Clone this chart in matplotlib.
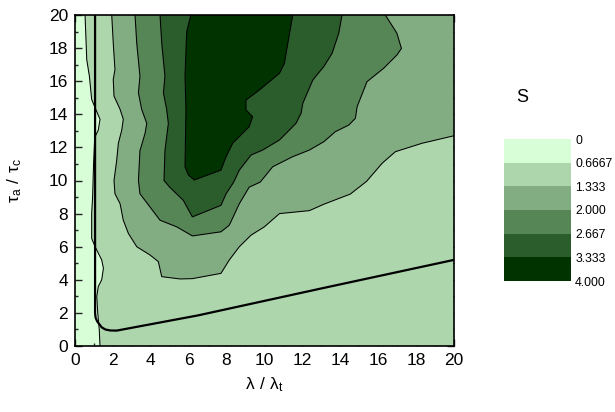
import matplotlib
matplotlib.use("Agg")
import matplotlib.pyplot as plt
from matplotlib.colors import ListedColormap, BoundaryNorm
from matplotlib.colorbar import ColorbarBase
import numpy as np

plt.rcParams['font.family'] = ['Liberation Sans', 'DejaVu Sans']
plt.rcParams['mathtext.default'] = 'regular'

# contour levels of S and their band colours (light -> dark green)
levels = [0.0, 0.6667, 1.333, 2.000, 2.667, 3.333, 4.000]
level_labels = ['0', '0.6667', '1.333', '2.000', '2.667', '3.333', '4.000']
band_colors = ['#d8fed8', '#add6ad', '#82ad82', '#568556', '#2b5c2b', '#003300']

# iso-lines of S (lambda/lambda_t, tau_a/tau_c)
s_0667_x = [0.53, 0.62, 0.76, 0.88, 1.06, 1.32, 1.23, 1.04, 0.98, 0.93, 0.88, 0.88,
            1.06, 1.41, 1.50, 1.41, 1.23, 1.15, 1.20, 1.28, 1.32]
s_0667_y = [20.0, 17.3, 16.3, 14.9, 14.4, 13.7, 13.05, 12.6, 11.0, 9.0, 8.0, 6.5,
            6.0, 5.2, 4.7, 4.0, 3.6, 3.0, 2.0, 1.0, 0.0]

s_1333_x = [1.94, 2.02, 2.11, 2.02, 2.06, 2.38, 2.55, 2.47, 2.29, 2.20, 2.06, 2.11,
            2.38, 2.55, 2.82, 3.26, 3.96, 4.40, 4.58, 5.55, 6.20, 7.71, 8.15, 8.68,
            9.30, 10.00, 10.80, 12.38, 13.15, 14.54, 15.40, 16.22, 16.92, 18.33, 20.0]
s_1333_y = [20.0, 18.3, 16.7, 16.1, 15.1, 14.3, 13.7, 13.05, 12.25, 11.2, 10.0, 9.2,
            8.6, 7.6, 6.8, 6.0, 5.5, 5.1, 4.19, 4.05, 4.07, 4.39, 5.2, 6.0,
            6.7, 7.2, 8.0, 8.18, 8.57, 9.18, 9.95, 11.04, 11.74, 12.25, 12.7]

s_2000_x = [3.17, 3.26, 3.43, 3.35, 3.52, 3.79, 3.70, 3.43, 3.35, 3.43, 3.96, 4.49,
            5.37, 6.20, 7.71, 8.15, 8.68, 9.20, 9.78, 10.44, 11.50, 12.38, 13.15,
            13.75, 14.46, 14.81, 14.90, 15.42, 16.30, 17.00, 17.24, 17.00, 16.39]
s_2000_y = [20.0, 18.3, 16.3, 15.3, 14.3, 13.45, 12.85, 11.8, 10.0, 9.2, 8.4, 7.6,
            7.2, 6.65, 6.9, 7.3, 8.6, 9.6, 9.9, 10.83, 11.44, 11.84, 12.35,
            12.95, 13.35, 13.76, 14.46, 15.97, 16.78, 17.58, 17.98, 18.9, 20.0]

s_2667_x = [4.49, 4.58, 4.75, 4.67, 4.84, 4.93, 4.75, 4.70, 5.00, 5.72, 6.20, 7.71,
            7.98, 8.38, 8.68, 9.30, 9.91, 10.80, 11.67, 11.94, 12.03, 12.56, 13.15,
            13.58, 13.93, 14.10]
s_2667_y = [20.0, 18.3, 16.3, 15.3, 14.3, 13.45, 11.8, 10.0, 9.6, 8.8, 7.8, 8.5,
            9.2, 9.9, 10.63, 11.54, 11.84, 12.45, 13.45, 14.06, 14.66, 16.07, 16.9,
            17.69, 18.9, 20.0]

s_3333_x = [6.12, 5.90, 5.81, 5.86, 5.81, 5.99, 6.30, 7.71, 7.98, 8.33, 9.20, 9.38,
            9.03, 9.03, 9.74, 10.80, 11.06, 11.24, 11.50]
s_3333_y = [20.0, 19.0, 16.3, 14.3, 10.83, 10.33, 10.03, 10.63, 11.44, 12.25, 13.25, 13.86,
            14.26, 14.86, 15.47, 16.48, 17.08, 18.29, 20.0]

# boundary curve (thick line)
bound_x = [1.06, 1.06, 1.06, 1.09, 1.18, 1.41, 1.60, 1.85, 2.20, 6.50, 13.10, 20.0]
bound_y = [20.0, 10.0, 2.0, 1.7, 1.47, 1.13, 1.00, 0.94, 0.93, 1.85, 3.50, 5.20]

x_min, x_max = 0, 20
y_min, y_max = 0, 20

cmap = ListedColormap(band_colors)
norm = BoundaryNorm(levels, cmap.N)

fig = plt.figure(figsize=(6.15, 4.12), dpi=100)
ax = fig.add_axes([75 / 615, 1 - 346 / 412, (453.7 - 75) / 615, (346 - 15) / 412])

def band_color(i):
    return cmap(norm(0.5 * (levels[i] + levels[i + 1])))

# lowest band fills the whole domain
ax.fill([x_min, x_max, x_max, x_min], [y_min, y_min, y_max, y_max],
        color=band_color(0), lw=0, zorder=1)

# S >= 0.6667 : everything right of the first iso-line
ax.fill(s_0667_x + [x_max, x_max], s_0667_y + [y_min, y_max],
        color=band_color(1), lw=0, zorder=2)
# S >= 1.333 : closed along the top/right edges
ax.fill(s_1333_x + [x_max], s_1333_y + [y_max], color=band_color(2), lw=0, zorder=3)
ax.fill(s_2000_x, s_2000_y, color=band_color(3), lw=0, zorder=4)
ax.fill(s_2667_x, s_2667_y, color=band_color(4), lw=0, zorder=5)
ax.fill(s_3333_x, s_3333_y, color=band_color(5), lw=0, zorder=6)

for xs, ys in [(s_0667_x, s_0667_y), (s_1333_x, s_1333_y), (s_2000_x, s_2000_y),
               (s_2667_x, s_2667_y), (s_3333_x, s_3333_y)]:
    ax.plot(xs, ys, color='black', lw=0.75, zorder=7, solid_joinstyle='round')

ax.plot(bound_x, bound_y, color='black', lw=1.6, zorder=8, solid_joinstyle='round')

ax.set_xlim(x_min, x_max)
ax.set_ylim(y_min, y_max)
ax.set_xticks(np.arange(0, 21, 2))
ax.set_yticks(np.arange(0, 21, 2))
ax.set_xticks(np.arange(1, 20, 2), minor=True)
ax.set_yticks(np.arange(1, 20, 2), minor=True)
ax.tick_params(which='both', direction='in', top=True, right=True, width=1.0,
               labelsize=12.5, color='#222222')
ax.tick_params(which='major', length=5, pad=5)
ax.tick_params(which='minor', length=2.5)
for sp in ax.spines.values():
    sp.set_linewidth(1.2)
    sp.set_zorder(10)

ax.set_xlabel(r'$\lambda\ /\ \lambda_t$', fontsize=12.5, labelpad=5)
ax.set_ylabel(r'$\tau_a\ /\ \tau_c$', fontsize=12.5, labelpad=18)

# legend of the filled levels
cax = fig.add_axes([504 / 615, 1 - 281 / 412, 67 / 615, 142 / 412])
cb = ColorbarBase(cax, cmap=cmap, norm=norm, boundaries=levels, ticks=levels,
                  spacing='uniform', orientation='vertical')
cb.outline.set_visible(False)
cax.invert_yaxis()
cax.set_yticklabels(level_labels)
cax.tick_params(length=0, labelsize=8.8, pad=3)
fig.text(522 / 615, 1 - 97 / 412, 'S', fontsize=13, ha='center', va='center')

fig.savefig('out.png', dpi=100)
